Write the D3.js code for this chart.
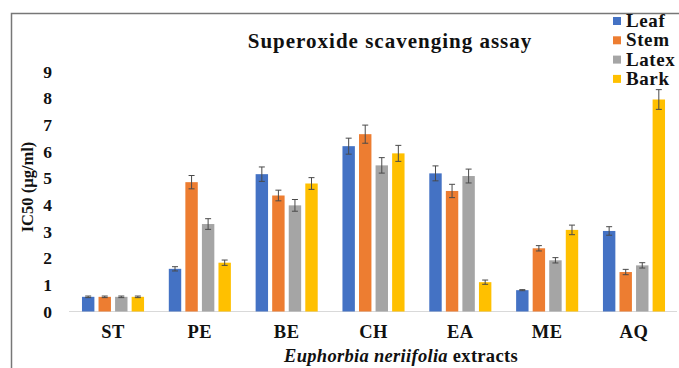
<!DOCTYPE html>
<html>
<head>
<meta charset="utf-8">
<script src="https://cdnjs.cloudflare.com/ajax/libs/d3/7.8.5/d3.min.js"></script>
<style>
    body { margin: 0; background: white; }
</style>
</head>
<body>
<svg id="chart" width="679" height="368"></svg>
<script>
    // extracts on the x axis
    const categories = ['ST', 'PE', 'BE', 'CH', 'EA', 'ME', 'AQ'];
    const series = ['Leaf', 'Stem', 'Latex', 'Bark'];
    const colours = ['#4472C4', '#ED7D31', '#A5A5A5', '#FFC000'];

    // IC50 values per series, in the order of categories
    const leaf  = [0.55, 1.60, 5.15, 6.20, 5.18, 0.80, 3.02];
    const stem  = [0.55, 4.85, 4.35, 6.65, 4.52, 2.37, 1.48];
    const latex = [0.55, 3.28, 3.98, 5.48, 5.08, 1.92, 1.73];
    const bark  = [0.55, 1.83, 4.80, 5.93, 1.10, 3.06, 7.95];

    // error bar half-widths
    const leafErr  = [0.03, 0.08, 0.27, 0.30, 0.28, 0.02, 0.16];
    const stemErr  = [0.03, 0.25, 0.20, 0.34, 0.25, 0.10, 0.10];
    const latexErr = [0.03, 0.20, 0.22, 0.29, 0.26, 0.10, 0.10];
    const barkErr  = [0.03, 0.10, 0.22, 0.30, 0.08, 0.18, 0.37];

    const yTicks = [0, 1, 2, 3, 4, 5, 6, 7, 8, 9];

    const values = [leaf, stem, latex, bark];
    const errors = [leafErr, stemErr, latexErr, barkErr];

    const FONT = '"Liberation Serif", "DejaVu Serif", serif';

    const svg = d3.select('#chart');

    // frame (top and left edges visible in the picture)
    svg.append('path')
        .attr('d', 'M11.5,368V13.5H679')
        .attr('fill', 'none')
        .attr('stroke', '#777')
        .attr('stroke-width', 1.5);

    const x0 = d3.scaleBand().domain(categories).range([69.6, 677.4]).paddingInner(0.285).paddingOuter(0.1425);
    const x1 = d3.scaleBand().domain(series).range([0, x0.bandwidth()]).paddingInner(0.25);
    const y = d3.scaleLinear().domain([0, 9]).range([311.5, 71.5]);

    // y tick labels
    const yAxis = svg.append('g')
        .attr('transform', 'translate(52,0)')
        .call(d3.axisLeft(y).tickValues(yTicks).tickSize(0).tickPadding(0));
    yAxis.attr('font-family', FONT).attr('font-size', 17.5).attr('font-weight', 'bold');
    yAxis.select('.domain').remove();
    yAxis.selectAll('text').attr('fill', '#111');

    // baseline
    svg.append('line')
        .attr('x1', 69).attr('x2', 677)
        .attr('y1', y(0)).attr('y2', y(0))
        .attr('stroke', '#d9d9d9')
        .attr('stroke-width', 1);

    // x category labels
    const xAxis = svg.append('g')
        .attr('transform', `translate(0,${y(0)})`)
        .call(d3.axisBottom(x0).tickSize(0).tickPadding(13));
    xAxis.attr('font-family', FONT).attr('font-size', 18.5).attr('font-weight', 'bold');
    xAxis.select('.domain').remove();
    xAxis.selectAll('text').attr('fill', '#111').attr('letter-spacing', 0.5);

    // bars
    const rows = [];
    categories.forEach((c, i) => {
        series.forEach((s, j) => {
            rows.push({cat: c, ser: s, v: values[j][i], e: errors[j][i], col: colours[j]});
        });
    });

    const g = svg.append('g');
    g.selectAll('rect.bar')
        .data(rows)
        .join('rect')
        .attr('class', 'bar')
        .attr('x', d => x0(d.cat) + x1(d.ser))
        .attr('y', d => y(d.v))
        .attr('width', x1.bandwidth())
        .attr('height', d => y(0) - y(d.v))
        .attr('fill', d => d.col);

    // error bars
    const eb = g.selectAll('g.err')
        .data(rows)
        .join('g')
        .attr('class', 'err')
        .attr('stroke', '#4a4a4a')
        .attr('stroke-width', 1);
    const cx = d => x0(d.cat) + x1(d.ser) + x1.bandwidth() / 2;
    eb.append('line')
        .attr('x1', cx).attr('x2', cx)
        .attr('y1', d => y(d.v + d.e)).attr('y2', d => y(d.v - d.e));
    eb.append('line')
        .attr('x1', d => cx(d) - 3).attr('x2', d => cx(d) + 3)
        .attr('y1', d => y(d.v + d.e)).attr('y2', d => y(d.v + d.e));
    eb.append('line')
        .attr('x1', d => cx(d) - 3).attr('x2', d => cx(d) + 3)
        .attr('y1', d => y(d.v - d.e)).attr('y2', d => y(d.v - d.e));

    const labels = svg.append('g')
        .attr('font-family', FONT)
        .attr('font-weight', 'bold')
        .attr('fill', '#111');

    // title
    labels.append('text')
        .attr('x', 390).attr('y', 48)
        .attr('text-anchor', 'middle')
        .attr('font-size', 21)
        .attr('letter-spacing', 1)
        .text('Superoxide scavenging assay');

    // y axis title
    labels.append('text')
        .attr('transform', 'translate(33,187) rotate(-90)')
        .attr('text-anchor', 'middle')
        .attr('font-size', 16.5)
        .text('IC50 (µg/ml)');

    // x axis title
    const xt = labels.append('text')
        .attr('x', 401).attr('y', 362)
        .attr('text-anchor', 'middle')
        .attr('font-size', 18.5)
        .attr('letter-spacing', 0.3);
    xt.append('tspan').attr('font-style', 'italic').text('Euphorbia neriifolia');
    xt.append('tspan').text(' extracts');

    // legend
    const leg = labels.append('g').selectAll('g')
        .data(series)
        .join('g')
        .attr('transform', (d, i) => `translate(613,${21 + i * 19.3})`);
    leg.append('rect')
        .attr('x', 0).attr('y', -4)
        .attr('width', 8).attr('height', 8)
        .attr('fill', (d, i) => colours[i]);
    leg.append('text')
        .attr('x', 13).attr('y', 6)
        .attr('font-size', 19)
        .attr('letter-spacing', 0.6)
        .text(d => d);
</script>
</body>
</html>
